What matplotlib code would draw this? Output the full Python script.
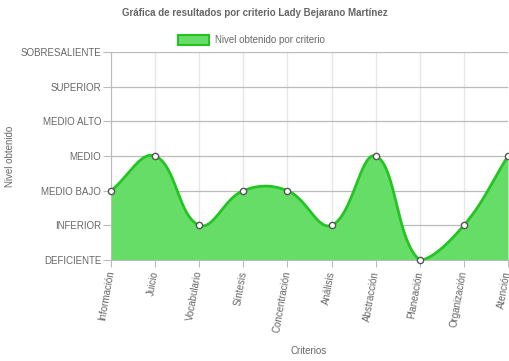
import numpy as np
import matplotlib
matplotlib.use("Agg")
import matplotlib.pyplot as plt

plt.rcParams['font.family'] = ['Liberation Sans', 'DejaVu Sans']

criterios = ["Información", "Juicio", "Vocabulario", "Síntesis", "Concentración",
             "Análisis", "Abstracción", "Planeación", "Organización", "Atención"]
niveles = ["DEFICIENTE", "INFERIOR", "MEDIO BAJO", "MEDIO", "MEDIO ALTO",
           "SUPERIOR", "SOBRESALIENTE"]
valores = [2, 3, 1, 2, 2, 1, 3, 0, 1, 3]

fill_col = "#66dd66"
line_col = "#22c522"
txt = "#666666"
fs = 7

W, H = 510, 361
fig = plt.figure(figsize=(W / 100, H / 100), dpi=100)
ax = fig.add_axes([111 / W, (H - 260) / H, (508 - 111) / W, (260 - 52) / H])
x = np.arange(len(criterios))
ax.set_xlim(0, len(criterios) - 1)
ax.set_ylim(0, len(niveles) - 1)


def spline(px, py, tension=0.4):
    # chart.js style cardinal spline, computed in pixel space
    n = len(px)
    ctrl = []
    for i in range(n):
        p0 = (px[max(i - 1, 0)], py[max(i - 1, 0)])
        p1 = (px[i], py[i])
        p2 = (px[min(i + 1, n - 1)], py[min(i + 1, n - 1)])
        d01 = np.hypot(p1[0] - p0[0], p1[1] - p0[1])
        d12 = np.hypot(p2[0] - p1[0], p2[1] - p1[1])
        s01 = d01 / (d01 + d12) if d01 + d12 else 0
        s12 = d12 / (d01 + d12) if d01 + d12 else 0
        fa, fb = tension * s01, tension * s12
        prev = (p1[0] - fa * (p2[0] - p0[0]), p1[1] - fa * (p2[1] - p0[1]))
        nxt = (p1[0] + fb * (p2[0] - p0[0]), p1[1] + fb * (p2[1] - p0[1]))
        ctrl.append((prev, nxt))
    return ctrl


disp = ax.transData.transform(np.column_stack([x, valores]))
y0 = ax.transData.transform((0, 0))[1]
y1 = ax.transData.transform((0, len(niveles) - 1))[1]
ctrl = spline(disp[:, 0], disp[:, 1])
pts = []
t = np.linspace(0, 1, 40)[:, None]
for i in range(len(x) - 1):
    a = disp[i]
    b = np.clip(np.array(ctrl[i][1]), [disp[0, 0], y0], [disp[-1, 0], y1])
    c = np.clip(np.array(ctrl[i + 1][0]), [disp[0, 0], y0], [disp[-1, 0], y1])
    d = disp[i + 1]
    seg = (1 - t) ** 3 * a + 3 * (1 - t) ** 2 * t * b + 3 * (1 - t) * t ** 2 * c + t ** 3 * d
    pts.append(seg)
pts = np.vstack(pts)
curve = ax.transData.inverted().transform(pts)

ax.fill_between(curve[:, 0], 0, curve[:, 1], color=fill_col, lw=0, zorder=2)
ax.plot(curve[:, 0], curve[:, 1], color=line_col, lw=2, zorder=3)
ax.plot(x, valores, 'o', ms=4.5, mfc='white', mec='#555555', mew=1, zorder=4, clip_on=False)

ax.set_xticks(x)
ax.set_xticklabels(criterios, rotation=80, ha='right', va='center', rotation_mode='anchor',
                   fontsize=fs, color=txt)
ax.set_yticks(range(len(niveles)))
ax.set_yticklabels(niveles, fontsize=fs, color=txt)
ax.tick_params(axis='y', length=6, color='#bbbbbb', pad=1)
ax.tick_params(axis='x', length=5, color='#bbbbbb', pad=3)
ax.grid(axis='y', color='#bbbbbb', lw=0.9, zorder=1)
ax.grid(axis='x', color='#e6e6e6', lw=0.9, zorder=1)
ax.set_axisbelow(True)
for s in ['top', 'right']:
    ax.spines[s].set_visible(False)
ax.spines['left'].set_color('#bbbbbb')
ax.spines['bottom'].set_color('#bbbbbb')

fig.text(255 / W, 1 - 13 / H, "Gráfica de resultados por criterio Lady Bejarano Martínez",
         ha='center', va='center', fontsize=fs, fontweight='bold', color=txt)
fig.patches.append(plt.Rectangle((178 / W, 1 - 45 / H), 31 / W, 10 / H, transform=fig.transFigure,
                                 facecolor=fill_col, edgecolor=line_col, lw=1.5))
fig.text(215 / W, 1 - 40 / H, "Nivel obtenido por criterio", ha='left', va='center',
         fontsize=fs, color=txt)
fig.text(309 / W, 1 - 351 / H, "Criterios", ha='center', va='center', fontsize=fs, color=txt)
fig.text(10 / W, 1 - 156 / H, "Nivel obtenido", ha='center', va='center', rotation=90,
         fontsize=fs, color=txt)

fig.savefig("out.png", dpi=100)
